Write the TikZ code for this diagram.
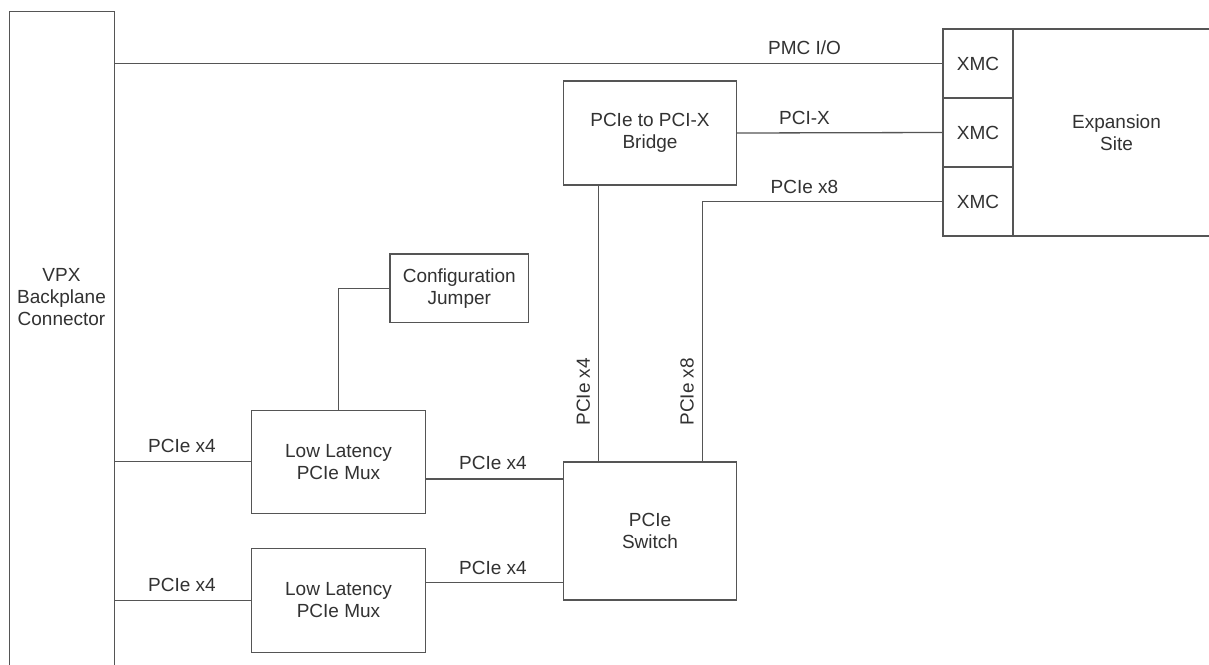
\documentclass[tikz,border=0pt]{standalone}
\usepackage{fontspec}
\setmainfont{Liberation Sans}
\definecolor{linec}{RGB}{85,85,85}
\definecolor{textc}{RGB}{50,50,50}
\begin{document}
\begin{tikzpicture}[x=1pt,y=-1pt,
  every node/.style={font=\fontsize{19}{22}\selectfont, text=textc, align=center, inner sep=0pt},
  box/.style={draw=linec, line width=1.3pt, rectangle},
  conn/.style={draw=linec, line width=1.3pt},
  lbl/.style={anchor=center}]
\useasboundingbox (0,0) rectangle (1209,664);
\clip (0,0) rectangle (1209,664);
\fill[white] (0,0) rectangle (1209,664);

% VPX connector (open at the bottom)
\node[minimum width=104.5pt, minimum height=668pt] (vpx) at (61.75,346) {};
\draw[conn] (vpx.south west) -- (vpx.north west) -- (vpx.north east) -- (vpx.south east);
\node (vpxtext) at (61.5,297) {VPX\\Backplane\\Connector};

% Expansion site (open at the right)
\node[box, minimum width=207pt, minimum height=207pt] (exp) at (1116.5,132.5) {Expansion\\Site};
\node[box, minimum width=70pt, minimum height=69pt] (xmc1) at (978,63.5) {XMC};
\node[box, minimum width=70pt, minimum height=69pt] (xmc2) at (978,132.5) {XMC};
\node[box, minimum width=70pt, minimum height=69pt] (xmc3) at (978,201.5) {XMC};

% Blocks
\node[box, minimum width=173pt, minimum height=104pt] (bridge) at (650,133) {PCIe to PCI-X\\Bridge};
\node[box, minimum width=173pt, minimum height=138pt] (switch) at (650,531) {PCIe\\Switch};
\node[box, minimum width=173.6pt, minimum height=103pt] (mux1) at (338.5,461.7) {Low Latency\\PCIe Mux};
\node[box, minimum width=173.6pt, minimum height=104pt] (mux2) at (338.5,600.3) {Low Latency\\PCIe Mux};
\node[box, minimum width=138.7pt, minimum height=68.7pt] (cfg) at (459.3,288.3) {Configuration\\Jumper};

% helper coordinates
\coordinate (k4) at (598.3,0);
\coordinate (k8) at (702.3,0);
\coordinate (r1) at (0,479);
\coordinate (r2) at (0,582.3);

% Connectors
\draw[conn] (vpx.east |- xmc1.west) -- (xmc1.west);
\draw[conn] (bridge.east) -- (xmc2.west);
\draw[conn] (xmc3.west) -- (xmc3.west -| k8) -- (k8 |- switch.north);
\draw[conn] (k4 |- bridge.south) -- (k4 |- switch.north);
\draw[conn] (cfg.west) -| (mux1.north);
\draw[conn] (vpx.east |- mux1.west) -- (mux1.west);
\draw[conn] (vpx.east |- mux2.west) -- (mux2.west);
\draw[conn] (mux1.east |- r1) -- (switch.west |- r1);
\draw[conn] (mux2.east |- r2) -- (switch.west |- r2);

% Labels
\node[lbl] (lpmc) at (804.5,48) {PMC I/O};
\node[lbl] (lpcix) at (804.5,118) {PCI-X};
\node[lbl] (lx8h) at (804.5,187) {PCIe x8};
\node[lbl] (lv1) at (182,446) {PCIe x4};
\node[lbl] (lv2) at (182,585) {PCIe x4};
\node[lbl] (lm1) at (493,463) {PCIe x4};
\node[lbl] (lm2) at (493,568) {PCIe x4};
\node[lbl, rotate=90] (lb4) at (583.3,391.7) {PCIe x4};
\node[lbl, rotate=90] (lb8) at (687,391.7) {PCIe x8};
\end{tikzpicture}
\end{document}
